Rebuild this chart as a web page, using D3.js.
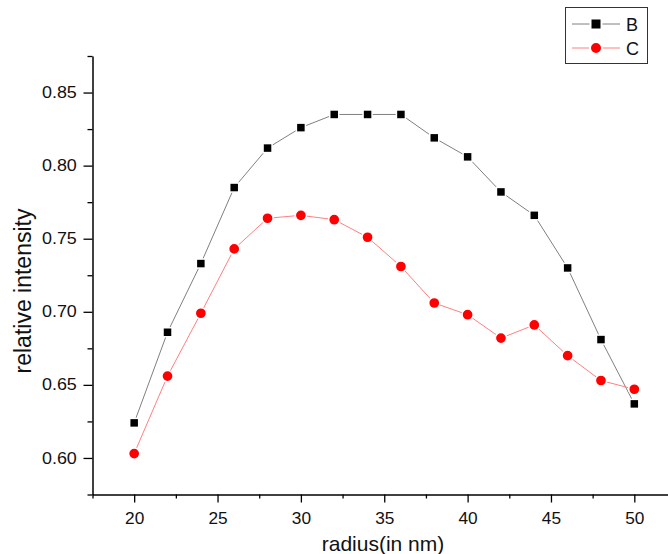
<!DOCTYPE html>
<html>
<head>
<meta charset="utf-8">
<script src="https://cdn.jsdelivr.net/npm/d3@7"></script>
<style>
  body { margin: 0; background: #fff; }
  svg { display: block; font-family: "Liberation Sans", Arial, sans-serif; }
</style>
</head>
<body>
<svg id="chart" width="668" height="554"></svg>
<script>
// chart data
var radius = [20, 22, 24, 26, 28, 30, 32, 34, 36, 38, 40, 42, 44, 46, 48, 50];
var seriesB = [0.624, 0.686, 0.733, 0.785, 0.812, 0.826, 0.835, 0.835, 0.835, 0.819, 0.806, 0.782, 0.766, 0.730, 0.681, 0.637];
var seriesC = [0.603, 0.656, 0.699, 0.743, 0.764, 0.766, 0.763, 0.751, 0.731, 0.706, 0.698, 0.682, 0.691, 0.670, 0.653, 0.647];
var xTicks = [20, 25, 30, 35, 40, 45, 50];
var xMinor = [17.5, 22.5, 27.5, 32.5, 37.5, 42.5, 47.5, 52.5];
var yTicks = [0.60, 0.65, 0.70, 0.75, 0.80, 0.85];
var yMinor = [0.575, 0.625, 0.675, 0.725, 0.775, 0.825, 0.875];
var legendNames = ["B", "C"];

var svg = d3.select("#chart");

var x = d3.scaleLinear().domain([17.5, 52.5]).range([92.5, 676]);
var y = d3.scaleLinear().domain([0.575, 0.875]).range([494.5, 56]);

// minor ticks first
svg.append("g")
    .attr("transform", "translate(0," + y(0.575) + ")")
    .call(d3.axisBottom(x).tickValues(xMinor).tickSize(4).tickSizeOuter(0).tickFormat(""))
    .call(function(g){ g.select(".domain").remove(); })
    .selectAll("line").attr("stroke", "#000").attr("stroke-width", 1.3);

svg.append("g")
    .attr("transform", "translate(" + x(17.5) + ",0)")
    .call(d3.axisLeft(y).tickValues(yMinor).tickSize(5).tickSizeOuter(0).tickFormat(""))
    .call(function(g){ g.select(".domain").remove(); })
    .selectAll("line").attr("stroke", "#000").attr("stroke-width", 1.3);

// main axes
var xAxis = svg.append("g")
    .attr("transform", "translate(0," + y(0.575) + ")")
    .call(d3.axisBottom(x).tickValues(xTicks).tickSize(8).tickSizeOuter(0).tickPadding(10).tickFormat(d3.format("d")));

var yAxis = svg.append("g")
    .attr("transform", "translate(" + x(17.5) + ",0)")
    .call(d3.axisLeft(y).tickValues(yTicks).tickSize(9).tickSizeOuter(0).tickPadding(5).tickFormat(d3.format(".2f")));

[xAxis, yAxis].forEach(function(g) {
  g.select(".domain").attr("stroke", "#000").attr("stroke-width", 1.5);
  g.selectAll(".tick line").attr("stroke", "#000").attr("stroke-width", 1.3);
  g.selectAll(".tick text")
    .attr("fill", "#111")
    .style("font-size", "16px")
    .style("font-family", "'Liberation Sans', Arial, sans-serif");
});
yAxis.selectAll(".tick text").attr("transform", "scale(1.12,1)");
xAxis.selectAll(".tick text").attr("transform", "scale(1.08,1)");

// axis titles
svg.append("text")
    .attr("x", 383).attr("y", 551)
    .attr("text-anchor", "middle")
    .style("font-size", "21px")
    .attr("fill", "#111")
    .text("radius(in nm)");

svg.append("text")
    .attr("transform", "translate(31,291) rotate(-90)")
    .attr("text-anchor", "middle")
    .style("font-size", "23px")
    .attr("fill", "#111")
    .text("relative intensity");

// lines
var lineB = d3.line().x(function(d, i){ return x(radius[i]); }).y(function(d){ return y(d); });

svg.append("path").datum(seriesB)
    .attr("fill", "none").attr("stroke", "#808080").attr("stroke-width", 1)
    .attr("d", lineB);
svg.append("path").datum(seriesC)
    .attr("fill", "none").attr("stroke", "#ff8080").attr("stroke-width", 1)
    .attr("d", lineB);

// markers
svg.append("g").selectAll("rect")
  .data(seriesB)
  .enter().append("rect")
    .attr("x", function(d, i){ return x(radius[i]) - 4.5; })
    .attr("y", function(d){ return y(d) - 4.5; })
    .attr("width", 9).attr("height", 9)
    .attr("fill", "#000")
    .attr("stroke", "#fff").attr("stroke-width", 1.5);

svg.append("g").selectAll("circle")
  .data(seriesC)
  .enter().append("circle")
    .attr("cx", function(d, i){ return x(radius[i]); })
    .attr("cy", function(d){ return y(d); })
    .attr("r", 5.6)
    .attr("fill", "#ff0000")
    .attr("stroke", "#fff").attr("stroke-width", 1.5);

// legend
var legend = svg.append("g");
legend.append("rect")
    .attr("x", 565.5).attr("y", 7.5).attr("width", 82).attr("height", 56)
    .attr("fill", "#fff").attr("stroke", "#333").attr("stroke-width", 1);

var legendColors = ["#808080", "#ff8080"];
legendNames.forEach(function(name, i) {
  var ly = 24 + i * 24;
  legend.append("line")
    .attr("x1", 572).attr("x2", 620).attr("y1", ly).attr("y2", ly)
    .attr("stroke", legendColors[i]).attr("stroke-width", 1);
  if (i === 0) {
    legend.append("rect")
      .attr("x", 590.5).attr("y", ly - 5.5).attr("width", 11).attr("height", 11)
      .attr("fill", "#000").attr("stroke", "#fff").attr("stroke-width", 2);
  } else {
    legend.append("circle")
      .attr("cx", 596).attr("cy", ly).attr("r", 6)
      .attr("fill", "#ff0000").attr("stroke", "#fff").attr("stroke-width", 2);
  }
  legend.append("text")
    .attr("x", 626).attr("y", ly + 6.5)
    .style("font-size", "18px")
    .attr("fill", "#111")
    .text(name);
});
</script>
</body>
</html>
